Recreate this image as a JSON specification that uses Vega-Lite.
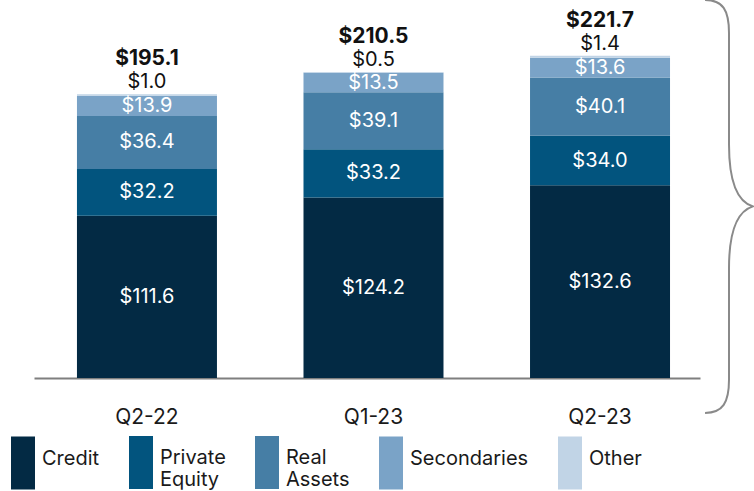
{
  "$schema": "https://vega.github.io/schema/vega-lite/v6.json",
  "autosize": "none",
  "width": 666,
  "height": 378,
  "padding": {"left": 34, "top": 0, "right": 54, "bottom": 113},
  "config": {"view": {"stroke": null}, "font": "Inter"},
  "data": {
    "values": [
      {"quarter": "Q2-22", "type": "Credit", "order": 1, "value": 111.6},
      {"quarter": "Q2-22", "type": "Private Equity", "order": 2, "value": 32.2},
      {"quarter": "Q2-22", "type": "Real Assets", "order": 3, "value": 36.4},
      {"quarter": "Q2-22", "type": "Secondaries", "order": 4, "value": 13.9},
      {"quarter": "Q2-22", "type": "Other", "order": 5, "value": 1.0},
      {"quarter": "Q1-23", "type": "Credit", "order": 1, "value": 124.2},
      {"quarter": "Q1-23", "type": "Private Equity", "order": 2, "value": 33.2},
      {"quarter": "Q1-23", "type": "Real Assets", "order": 3, "value": 39.1},
      {"quarter": "Q1-23", "type": "Secondaries", "order": 4, "value": 13.5},
      {"quarter": "Q1-23", "type": "Other", "order": 5, "value": 0.5},
      {"quarter": "Q2-23", "type": "Credit", "order": 1, "value": 132.6},
      {"quarter": "Q2-23", "type": "Private Equity", "order": 2, "value": 34.0},
      {"quarter": "Q2-23", "type": "Real Assets", "order": 3, "value": 40.1},
      {"quarter": "Q2-23", "type": "Secondaries", "order": 4, "value": 13.6},
      {"quarter": "Q2-23", "type": "Other", "order": 5, "value": 1.4}
    ]
  },
  "layer": [
    {
      "transform": [
        {"stack": "value", "groupby": ["quarter"], "sort": [{"field": "order", "order": "ascending"}], "as": ["v0", "v1"]},
        {"calculate": "(datum.v0 + datum.v1) / 2", "as": "mid"},
        {"joinaggregate": [{"op": "sum", "field": "value", "as": "total"}], "groupby": ["quarter"]}
      ],
      "encoding": {
        "x": {
          "field": "quarter", "type": "nominal", "sort": ["Q2-22", "Q1-23", "Q2-23"],
          "scale": {"paddingInner": 0.382, "paddingOuter": 0.161, "align": 0.589},
          "axis": {"title": null, "labelAngle": 0, "ticks": false, "domainColor": "#7f7f7f", "domainWidth": 2, "labelFontSize": 21, "labelColor": "#1a1a1a", "labelPadding": 28, "labelFont": "Inter"}
        }
      },
      "layer": [
        {
          "mark": {"type": "bar"},
          "encoding": {
            "y": {"field": "v0", "type": "quantitative", "scale": {"domain": [0, 260], "nice": false}, "axis": null},
            "y2": {"field": "v1"},
            "color": {
              "field": "type", "type": "nominal",
              "scale": {"domain": ["Credit", "Private Equity", "Real Assets", "Secondaries", "Other"], "range": ["#032a44", "#02547e", "#467ea5", "#7aa3c7", "#c1d4e6"]},
              "legend": {
                "title": null, "orient": "none", "legendX": -23, "legendY": 446, "direction": "horizontal", "columns": 5,
                "symbolType": "M-1,-1.833L1,-1.833L1,2.583L-1,2.583Z", "symbolSize": 576, "symbolStrokeWidth": 0,
                "labelFontSize": 20, "labelFont": "Inter", "labelColor": "#1a1a1a", "labelOffset": 7, "columnPadding": 29,
                "labelExpr": "split(datum.label, ' ')", "labelLimit": 200
              }
            }
          }
        },
        {
          "transform": [{"filter": "datum.type !== 'Other'"}],
          "mark": {"type": "text", "fontSize": 20, "color": "white", "baseline": "middle"},
          "encoding": {
            "y": {"field": "mid", "type": "quantitative"},
            "text": {"field": "value", "type": "quantitative", "format": "$.1f"}
          }
        },
        {
          "transform": [{"filter": "datum.type === 'Other'"}],
          "mark": {"type": "text", "fontSize": 20, "color": "#111111", "baseline": "alphabetic", "dy": -6},
          "encoding": {
            "y": {"field": "v1", "type": "quantitative"},
            "text": {"field": "value", "type": "quantitative", "format": "$.1f"}
          }
        },
        {
          "transform": [{"filter": "datum.type === 'Other'"}],
          "mark": {"type": "text", "fontSize": 21, "fontWeight": "bold", "color": "#111111", "baseline": "alphabetic", "dy": -29},
          "encoding": {
            "y": {"field": "v1", "type": "quantitative"},
            "text": {"field": "total", "type": "quantitative", "format": "$.1f"}
          }
        }
      ]
    },
    {
      "data": {"values": [{"note": "brace"}]},
      "mark": {
        "type": "point", "filled": false, "stroke": "#8a8a8a", "strokeWidth": 2, "opacity": 1,
        "shape": "M-0.116,-1C-0.03,-1,0,-0.95,0,-0.84L0,-0.3C0,-0.1,0.05,-0.02,0.116,0C0.05,0.02,0,0.1,0,0.3L0,0.84C0,0.95,-0.03,1,-0.116,1",
        "size": 170569,
        "x": {"expr": "width + 29"},
        "y": {"expr": "height * 0.546"}
      },
      "encoding": {}
    }
  ]
}
